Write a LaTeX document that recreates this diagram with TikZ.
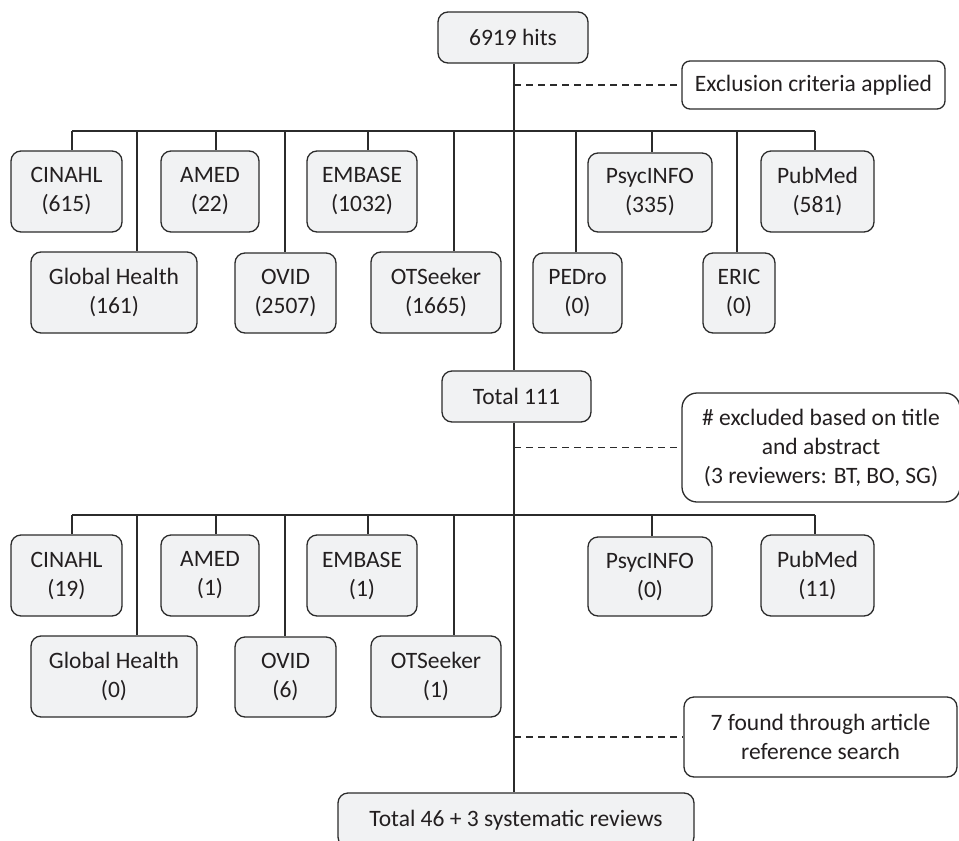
\documentclass[tikz,border=0pt]{standalone}
\usepackage{fontspec}
\setmainfont{Carlito}
\usetikzlibrary{calc}
\definecolor{boxfill}{HTML}{F1F2F3}
\definecolor{edge}{HTML}{2B2B2B}
\definecolor{ink}{HTML}{231F20}
\tikzset{
  db/.style={draw=edge, fill=boxfill, rounded corners=10pt, align=center, inner sep=0pt, line width=1.3pt, text=ink,
    font=\fontsize{23.5}{29}\selectfont},
  note/.style={db, fill=white},
  conn/.style={draw=edge, line width=1.6pt},
  dashconn/.style={draw=edge, line width=1.3pt, dash pattern=on 7pt off 5pt},
}
\begin{document}
\begin{tikzpicture}[x=1pt,y=-1pt]
\useasboundingbox (0,0) rectangle (959,841);
% top part
\node[db, minimum width=150pt, minimum height=51pt] (hits) at (513,37.5) {6919 hits};
\node[note, minimum width=263pt, minimum height=48pt, rounded corners=8pt] (excl) at (813.5,85) {Exclusion criteria applied};
\node[db, minimum width=111pt, minimum height=81pt] (cin1) at (66.5,191.5) {CINAHL\\(615)};
\node[db, minimum width=166pt, minimum height=81pt] (glo1) at (114,292.5) {Global Health\\(161)};
\node[db, minimum width=98pt, minimum height=81pt] (amed1) at (210,191.5) {AMED\\(22)};
\node[db, minimum width=101pt, minimum height=80pt] (ovid1) at (285.5,293) {OVID\\(2507)};
\node[db, minimum width=110pt, minimum height=81pt] (emb1) at (362,191.5) {EMBASE\\(1032)};
\node[db, minimum width=130pt, minimum height=81pt] (ots1) at (436,292.5) {OTSeeker\\(1665)};
\node[db, minimum width=89pt, minimum height=80pt] (ped1) at (577.5,293) {PEDro\\(0)};
\node[db, minimum width=124pt, minimum height=79pt] (psy1) at (650,192.5) {PsycINFO\\(335)};
\node[db, minimum width=72pt, minimum height=80pt] (eric1) at (739,293) {ERIC\\(0)};
\node[db, minimum width=113pt, minimum height=81pt] (pub1) at (817.5,191.5) {PubMed\\(581)};
\node[db, minimum width=149pt, minimum height=51pt] (tot1) at (516.5,396.5) {Total 111};
\node[note, minimum width=278pt, minimum height=109pt, rounded corners=15pt] (excl2) at (821,447.5) {\# excluded based on title\\and abstract\\(3 reviewers: BT, BO, SG)};
% bottom part
\node[db, minimum width=111pt, minimum height=81pt] (cin2) at (66.5,575.5) {CINAHL\\(19)};
\node[db, minimum width=166pt, minimum height=81pt] (glo2) at (114,676.5) {Global Health\\(0)};
\node[db, minimum width=98pt, minimum height=81pt] (amed2) at (210,575.5) {AMED\\(1)};
\node[db, minimum width=101pt, minimum height=80pt] (ovid2) at (285.5,677) {OVID\\(6)};
\node[db, minimum width=110pt, minimum height=81pt] (emb2) at (362,575.5) {EMBASE\\(1)};
\node[db, minimum width=130pt, minimum height=81pt] (ots2) at (436,676.5) {OTSeeker\\(1)};
\node[db, minimum width=124pt, minimum height=79pt] (psy2) at (650,576.5) {PsycINFO\\(0)};
\node[db, minimum width=113pt, minimum height=81pt] (pub2) at (817.5,575.5) {PubMed\\(11)};
\node[note, minimum width=273pt, minimum height=80pt] (found) at (820.5,737) {7 found through article\\reference search};
\node[db, minimum width=356pt, minimum height=54pt] (tot2) at (516,820) {Total 46 + 3 systematic reviews};
% coordinates
\coordinate (mx) at (514,0);
\coordinate (B1) at (0,131);
\coordinate (B2) at (0,515);
\coordinate (xc) at (72,0);
\coordinate (xg) at (137,0);
\coordinate (xa) at (216,0);
\coordinate (xo) at (285,0);
\coordinate (xe) at (368,0);
\coordinate (xt) at (454,0);
\coordinate (xp) at (576,0);
\coordinate (xy) at (652,0);
\coordinate (xr) at (737,0);
\coordinate (xm) at (815,0);
% main spine
\draw[conn] (mx |- hits.south) -- (mx |- tot1.north);
\draw[conn] (mx |- tot1.south) -- (mx |- tot2.north);
\draw[dashconn] (mx |- excl.west) -- (excl.west);
\draw[dashconn] (mx |- excl2.west) -- (excl2.west);
\draw[dashconn] (mx |- found.west) -- (found.west);
% bus 1
\draw[conn] (B1 -| xc) -- (B1 -| xm);
\draw[conn] (B1 -| xc) -- (xc |- cin1.north);
\draw[conn] (B1 -| xg) -- (xg |- glo1.north);
\draw[conn] (B1 -| xa) -- (xa |- amed1.north);
\draw[conn] (B1 -| xo) -- (xo |- ovid1.north);
\draw[conn] (B1 -| xe) -- (xe |- emb1.north);
\draw[conn] (B1 -| xt) -- (xt |- ots1.north);
\draw[conn] (B1 -| xp) -- (xp |- ped1.north);
\draw[conn] (B1 -| xy) -- (xy |- psy1.north);
\draw[conn] (B1 -| xr) -- (xr |- eric1.north);
\draw[conn] (B1 -| xm) -- (xm |- pub1.north);
% bus 2
\draw[conn] (B2 -| xc) -- (B2 -| xm);
\draw[conn] (B2 -| xc) -- (xc |- cin2.north);
\draw[conn] (B2 -| xg) -- (xg |- glo2.north);
\draw[conn] (B2 -| xa) -- (xa |- amed2.north);
\draw[conn] (B2 -| xo) -- (xo |- ovid2.north);
\draw[conn] (B2 -| xe) -- (xe |- emb2.north);
\draw[conn] (B2 -| xt) -- (xt |- ots2.north);
\draw[conn] (B2 -| xy) -- (xy |- psy2.north);
\draw[conn] (B2 -| xm) -- (xm |- pub2.north);
\end{tikzpicture}
\end{document}
